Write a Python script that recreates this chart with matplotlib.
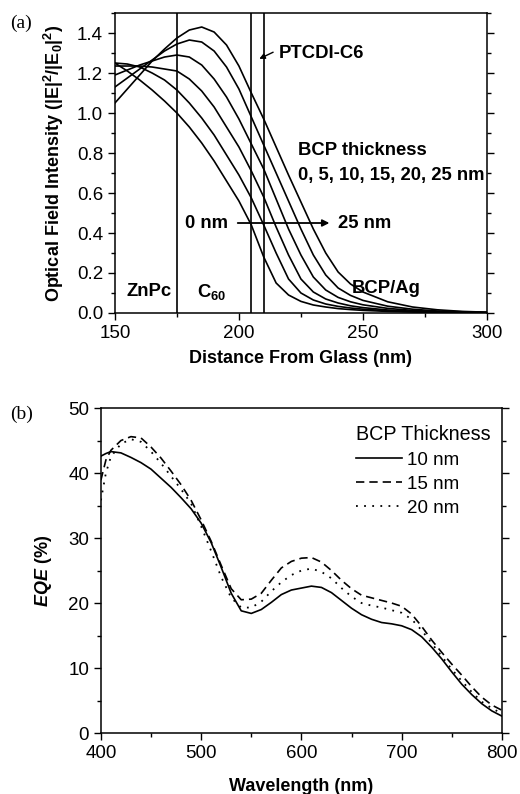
import matplotlib
matplotlib.use('Agg')
import matplotlib.pyplot as plt
from matplotlib.ticker import MultipleLocator, FormatStrFormatter

plt.rcParams['font.family'] = ['Liberation Sans', 'DejaVu Sans']
plt.rcParams['mathtext.fontset'] = 'custom'
plt.rcParams['mathtext.rm'] = 'Liberation Sans'
plt.rcParams['mathtext.bf'] = 'Liberation Sans:bold'
plt.rcParams['mathtext.it'] = 'Liberation Sans:italic'
plt.rcParams['mathtext.bfit'] = 'Liberation Sans:bold:italic'

# (a) optical field intensity vs distance, for BCP 0..25 nm
dist = [150, 155, 160, 165, 170, 175, 180, 185, 190, 195, 200, 205, 210, 215,
        220, 225, 230, 235, 240, 245, 250, 260, 270, 280, 290, 300]
field_0 = [1.25, 1.21, 1.165, 1.115, 1.06, 1.00, 0.93, 0.85, 0.76, 0.66, 0.56, 0.44, 0.28, 0.15,
           0.09, 0.058, 0.04, 0.03, 0.022, 0.017, 0.013, 0.008, 0.005, 0.003, 0.002, 0.001]
field_5 = [1.25, 1.245, 1.23, 1.20, 1.165, 1.115, 1.05, 0.975, 0.89, 0.79, 0.69, 0.575, 0.44, 0.30,
           0.17, 0.10, 0.065, 0.045, 0.033, 0.025, 0.019, 0.011, 0.007, 0.004, 0.002, 0.001]
field_10 = [1.235, 1.235, 1.235, 1.23, 1.22, 1.21, 1.17, 1.11, 1.03, 0.93, 0.83, 0.71, 0.58, 0.43,
            0.29, 0.17, 0.105, 0.07, 0.05, 0.036, 0.027, 0.015, 0.009, 0.005, 0.003, 0.002]
field_15 = [1.19, 1.215, 1.24, 1.26, 1.28, 1.29, 1.28, 1.24, 1.17, 1.08, 0.97, 0.845, 0.72, 0.57,
            0.42, 0.29, 0.18, 0.115, 0.078, 0.056, 0.041, 0.023, 0.013, 0.007, 0.004, 0.002]
field_20 = [1.13, 1.175, 1.22, 1.265, 1.31, 1.345, 1.365, 1.355, 1.31, 1.23, 1.12, 0.98, 0.84, 0.70,
            0.56, 0.42, 0.29, 0.19, 0.125, 0.088, 0.063, 0.034, 0.019, 0.01, 0.006, 0.003]
field_25 = [1.05, 1.12, 1.19, 1.26, 1.32, 1.375, 1.415, 1.43, 1.405, 1.34, 1.235, 1.10, 0.97, 0.83,
            0.69, 0.555, 0.42, 0.30, 0.205, 0.145, 0.105, 0.056, 0.03, 0.016, 0.008, 0.004]
fields = [field_0, field_5, field_10, field_15, field_20, field_25]
interfaces = [175, 205, 210]

# (b) EQE spectra
wl = [400, 405, 410, 420, 430, 440, 450, 460, 470, 480, 490, 500, 510, 520, 530, 540, 550,
      560, 570, 580, 590, 600, 610, 620, 630, 640, 650, 660, 670, 680, 690, 700, 710, 720,
      730, 740, 750, 760, 770, 780, 790, 800]
eqe_10 = [42.6, 43.0, 43.3, 43.1, 42.4, 41.6, 40.6, 39.2, 37.8, 36.2, 34.5, 32.3, 29.3, 25.5,
          21.5, 18.8, 18.4, 19.0, 20.1, 21.3, 22.0, 22.3, 22.6, 22.4, 21.6, 20.4, 19.2, 18.2,
          17.5, 17.0, 16.8, 16.5, 15.9, 14.8, 13.2, 11.4, 9.4, 7.5, 5.9, 4.5, 3.4, 2.6]
eqe_15 = [38.9, 42.0, 43.5, 45.0, 45.6, 45.4, 44.0, 42.3, 40.3, 38.2, 35.8, 32.8, 29.5, 25.8,
          22.2, 20.5, 20.6, 21.5, 23.5, 25.4, 26.4, 26.9, 27.0, 26.3, 25.0, 23.5, 22.2, 21.2,
          20.8, 20.4, 20.0, 19.5, 18.3, 16.4, 14.3, 12.4, 10.6, 8.9, 7.1, 5.5, 4.3, 3.5]
eqe_20 = [35.8, 40.0, 42.5, 44.5, 45.2, 44.8, 43.3, 41.5, 39.5, 37.5, 35.3, 31.8, 28.0, 24.0,
          20.8, 19.3, 19.3, 20.2, 21.8, 23.2, 24.3, 25.0, 25.3, 24.8, 23.8, 22.3, 21.0, 20.0,
          19.6, 19.3, 18.9, 18.5, 17.5, 15.8, 13.8, 11.8, 9.8, 8.0, 6.3, 4.8, 3.8, 3.0]


def style_axis(ax):
    ax.tick_params(which='both', direction='out', labelsize=13.5, top=False, right=True, width=1)
    ax.tick_params(which='major', length=5)
    ax.tick_params(which='minor', length=3)
    for s in ax.spines.values():
        s.set_linewidth(1.1)


fig = plt.figure(figsize=(5.2, 7.94), dpi=100)

# ---- panel (a)
ax1 = fig.add_axes([0.221, 0.6058, 0.7154, 0.3778])
for f in fields:
    ax1.plot(dist, f, color='black', lw=1.2)
for xi in interfaces:
    ax1.axvline(xi, color='black', lw=1.2)
ax1.set_xlim(150, 300)
ax1.set_ylim(0, 1.5)
ax1.xaxis.set_major_locator(MultipleLocator(50))
ax1.xaxis.set_minor_locator(MultipleLocator(25))
ax1.yaxis.set_major_locator(MultipleLocator(0.2))
ax1.yaxis.set_minor_locator(MultipleLocator(0.1))
ax1.yaxis.set_major_formatter(FormatStrFormatter('%.1f'))
style_axis(ax1)
ax1.set_xlabel('Distance From Glass (nm)', fontsize=13, fontweight='bold', labelpad=6)
ax1.set_ylabel(r'Optical Field Intensity (|E|$^{\mathbf{2}}$/|E$_{\mathbf{0}}$|$^{\mathbf{2}}$)',
               fontsize=13, fontweight='bold', labelpad=8)

tb = dict(fontsize=13.3, fontweight='bold')
ax1.text(216, 1.30, 'PTCDI-C6', va='center', **tb)
ax1.annotate('', xy=(207.2, 1.265), xytext=(214.8, 1.31),
             arrowprops=dict(arrowstyle='-|>', color='black', lw=1, mutation_scale=8))
ax1.text(224, 0.815, 'BCP thickness', va='center', **tb)
ax1.text(224, 0.69, '0, 5, 10, 15, 20, 25 nm', va='center', **tb)
ax1.text(178.3, 0.45, '0 nm', va='center', **tb)
ax1.annotate('', xy=(237.6, 0.45), xytext=(198.4, 0.45),
             arrowprops=dict(arrowstyle='-|>', color='black', lw=1.3, mutation_scale=10))
ax1.text(240, 0.45, '25 nm', va='center', **tb)
ax1.text(245.5, 0.12, 'BCP/Ag', va='center', **tb)
ax1.text(154.8, 0.105, 'ZnPc', va='center', **tb)
ax1.text(183, 0.105, r'C$_{\mathbf{60}}$', va='center', **tb)
fig.text(0.019, 0.97, '(a)', family='Liberation Serif', fontsize=14, va='center')

# ---- panel (b)
ax2 = fig.add_axes([0.194, 0.0768, 0.7712, 0.4093])
ax2.plot(wl, eqe_10, color='black', lw=1.2, ls='-', label='10 nm')
ax2.plot(wl, eqe_15, color='black', lw=1.2, ls=(0, (5, 3)), label='15 nm')
ax2.plot(wl, eqe_20, color='black', lw=1.3, ls=(0, (1, 3.5)), label='20 nm')
ax2.set_xlim(400, 800)
ax2.set_ylim(0, 50)
ax2.xaxis.set_major_locator(MultipleLocator(100))
ax2.xaxis.set_minor_locator(MultipleLocator(50))
ax2.yaxis.set_major_locator(MultipleLocator(10))
ax2.yaxis.set_minor_locator(MultipleLocator(5))
style_axis(ax2)
ax2.set_xlabel('Wavelength (nm)', fontsize=13, fontweight='bold', labelpad=12)
ax2.set_ylabel(r'$\mathbfit{EQE}$ (%)', fontsize=13, fontweight='bold', labelpad=10)
leg = ax2.legend(title='BCP Thickness', loc='upper left', bbox_to_anchor=(0.635, 0.947),
                 frameon=False, fontsize=13.5, title_fontsize=14.2, handlelength=2.5,
                 handletextpad=0.27, labelspacing=0.38, borderaxespad=0, borderpad=0)
leg._legend_box.align = 'left'
fig.text(0.019, 0.478, '(b)', family='Liberation Serif', fontsize=14, va='center')

fig.savefig('out.png', dpi=100)
